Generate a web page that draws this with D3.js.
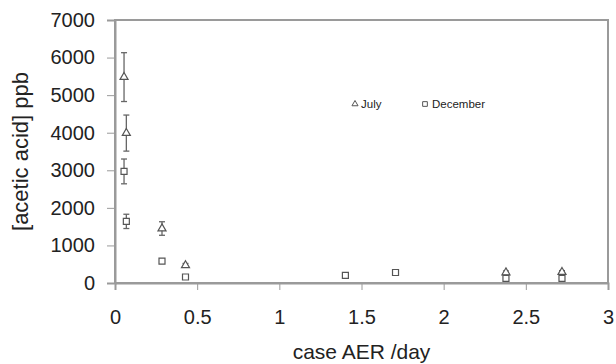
<!DOCTYPE html>
<html><head><meta charset="utf-8">
<script src="https://cdn.jsdelivr.net/npm/d3@7"></script>
<style>body{margin:0;background:#fff}svg{display:block;font-family:"Liberation Sans",Arial,sans-serif}</style>
</head><body><svg id="c" width="616" height="364"></svg>
<script>
const xTicks = [0, 0.5, 1, 1.5, 2, 2.5, 3];
const xTickLabels = ["0", "0.5", "1", "1.5", "2", "2.5", "3"];
const yTicks = [0, 1000, 2000, 3000, 4000, 5000, 6000, 7000];
const julyX = [0.055, 0.069, 0.286, 0.429, 2.379, 2.72];
const julyY = [5480, 3990, 1450, 470, 280, 290];
const julyErr = [650, 480, 180, 50, 40, 40];
const decX = [0.055, 0.069, 0.286, 0.429, 1.402, 1.707, 2.379, 2.72];
const decY = [2970, 1640, 580, 160, 205, 280, 125, 125];
const decErr = [330, 190, 0, 0, 0, 0, 0, 0];
const seriesNames = ["July", "December"];

const svg = d3.select("#c");
const x = d3.scaleLinear().domain([0, 3]).range([115, 608]);
const y = d3.scaleLinear().domain([0, 7000]).range([283, 20]);
const axisCol = "#9a9a9a", mk = "#555", txt = "#222";

svg.append("rect").attr("x", x(0)).attr("y", y(7000)).attr("width", x(3) - x(0)).attr("height", y(0) - y(7000))
  .attr("fill", "none").attr("stroke", axisCol).attr("stroke-width", 2);

const yAxis = svg.append("g").attr("transform", `translate(${x(0)},0)`)
  .call(d3.axisLeft(y).tickValues(yTicks).tickFormat(d3.format("d")).tickSize(8).tickPadding(12));
const xAxis = svg.append("g").attr("transform", `translate(0,${y(0)})`)
  .call(d3.axisBottom(x).tickValues(xTicks).tickFormat((d, i) => xTickLabels[i]).tickSize(7).tickPadding(20));
[yAxis, xAxis].forEach(a => {
  a.select(".domain").attr("stroke", axisCol).attr("stroke-width", 2);
  a.selectAll(".tick line").attr("stroke", axisCol).attr("stroke-width", 1);
  a.selectAll("text").attr("fill", txt).attr("font-size", 20).attr("font-family", '"Liberation Sans",Arial,sans-serif');
});

svg.append("text").attr("x", (x(0) + x(3)) / 2).attr("y", 359).attr("text-anchor", "middle")
  .attr("fill", txt).attr("font-size", 21).text("case AER /day");
svg.append("text").attr("transform", `translate(28,${(y(0) + y(7000)) / 2}) rotate(-90)`).attr("text-anchor", "middle")
  .attr("fill", txt).attr("font-size", 22).text("[acetic acid] ppb");

function errBars(xs, ys, es) {
  const g = svg.append("g").attr("stroke", "#666").attr("stroke-width", 1.3);
  xs.forEach((xv, i) => {
    if (!es[i]) return;
    const cx = x(xv), t = y(ys[i] + es[i]), b = y(ys[i] - es[i]);
    g.append("line").attr("x1", cx).attr("x2", cx).attr("y1", t).attr("y2", b);
    g.append("line").attr("x1", cx - 3).attr("x2", cx + 3).attr("y1", t).attr("y2", t);
    g.append("line").attr("x1", cx - 3).attr("x2", cx + 3).attr("y1", b).attr("y2", b);
  });
}
errBars(julyX, julyY, julyErr);
errBars(decX, decY, decErr);

const tri = d3.symbol().type(d3.symbolTriangle).size(28);
const sq = d3.symbol().type(d3.symbolSquare).size(36);
svg.append("g").selectAll("path").data(julyX).join("path")
  .attr("d", tri).attr("transform", (d, i) => `translate(${x(d)},${y(julyY[i])})`)
  .attr("fill", "#fff").attr("stroke", mk).attr("stroke-width", 1.2);
svg.append("g").selectAll("path").data(decX).join("path")
  .attr("d", sq).attr("transform", (d, i) => `translate(${x(d)},${y(decY[i])})`)
  .attr("fill", "#fff").attr("stroke", mk).attr("stroke-width", 1.2);

const leg = svg.append("g");
leg.append("path").attr("d", d3.symbol().type(d3.symbolTriangle).size(16)).attr("transform", "translate(355,104)")
  .attr("fill", "#fff").attr("stroke", mk).attr("stroke-width", 1);
leg.append("text").attr("x", 361).attr("y", 108).attr("font-size", 11.5).attr("fill", txt).text(seriesNames[0]);
leg.append("path").attr("d", d3.symbol().type(d3.symbolSquare).size(22)).attr("transform", "translate(425,104)")
  .attr("fill", "#fff").attr("stroke", mk).attr("stroke-width", 1);
leg.append("text").attr("x", 432).attr("y", 108).attr("font-size", 11.5).attr("fill", txt).text(seriesNames[1]);
</script></body></html>
